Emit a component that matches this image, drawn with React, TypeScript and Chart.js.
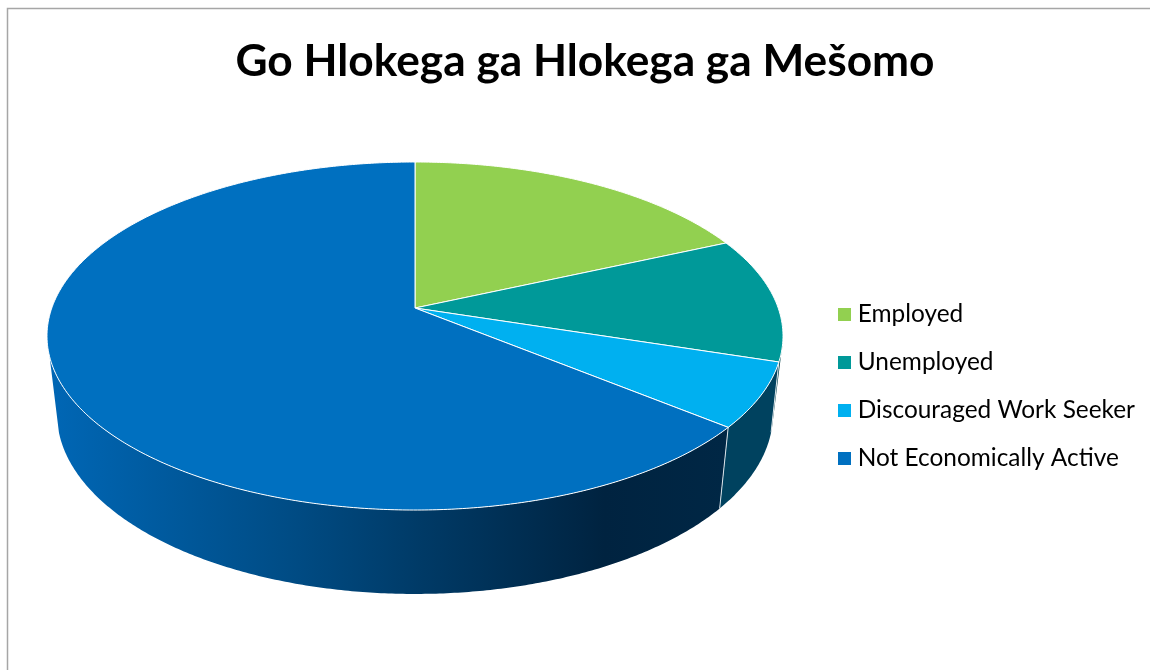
import React, { useEffect, useRef } from "react";
import { Chart, registerables } from "chart.js";

Chart.register(...registerables);

const TITLE = "Go Hlokega ga Hlokega ga Mešomo";
const categories = ["Employed", "Unemployed", "Discouraged Work Seeker", "Not Economically Active"];
const shares = [18.3, 11.6, 6.0, 64.1];
const colors = ["#92D050", "#009999", "#00B0F0", "#0070C0"];

type Proj = { cx: number; cy: number; A: number; B: number; k: number };
const topRim: Proj = { cx: 415, cy: 308, A: 363.2, B: 169.5, k: 0.161 };
const baseRim: Proj = { cx: 415, cy: 385, A: 353.3, B: 175.3, k: 0.161 };

function pt(p: Proj, theta: number, r = 1): [number, number] {
  const u = Math.sin(theta) * r;
  const v = -Math.cos(theta) * r;
  const w = 1 - p.k * v;
  return [p.cx + (p.A * u) / w, p.cy + (p.B * v) / w];
}
const rad = (d: number) => (d * Math.PI) / 180;

function trace(ctx: CanvasRenderingContext2D, p: Proj, a: number, b: number, first: boolean) {
  const n = Math.max(2, Math.ceil(Math.abs(b - a) / rad(0.5)));
  for (let i = 0; i <= n; i++) {
    const [x, y] = pt(p, a + ((b - a) * i) / n);
    if (i === 0 && first) ctx.moveTo(x, y);
    else ctx.lineTo(x, y);
  }
}

const tiltedPie = {
  id: "tiltedPie",
  beforeDraw(chart: any) {
    const { ctx } = chart;
    ctx.save();
    ctx.strokeStyle = "#A6A6A6";
    ctx.lineWidth = 1.5;
    ctx.beginPath();
    ctx.moveTo(7.5, 670);
    ctx.lineTo(7.5, 8.5);
    ctx.lineTo(1150, 8.5);
    ctx.stroke();
    ctx.restore();
  },
  beforeDatasetDraw(chart: any, args: any) {
    const { ctx } = chart;
    const arcs = args.meta.data;
    const ang = (a: number) => a + Math.PI / 2;
    const blue = arcs[3];
    const disc = arcs[2];
    const unemp = arcs[1];
    ctx.save();

    // side walls
    const grad = ctx.createLinearGradient(55, 0, 725, 0);
    grad.addColorStop(0, "#0066B4");
    grad.addColorStop(0.35, "#004C85");
    grad.addColorStop(0.55, "#003A66");
    grad.addColorStop(0.82, "#002340");
    grad.addColorStop(1, "#002745");

    const wall = (a: number, b: number, c: number, d: number, fill: any) => {
      ctx.beginPath();
      trace(ctx, topRim, a, b, true);
      trace(ctx, baseRim, c, d, false);
      ctx.closePath();
      ctx.fillStyle = fill;
      ctx.fill();
    };

    wall(ang(blue.startAngle), rad(254), rad(255), ang(blue.startAngle), grad);
    wall(ang(disc.startAngle), ang(disc.endAngle), ang(disc.endAngle), rad(105), "#00425F");
    wall(rad(101), ang(unemp.endAngle), rad(105), rad(103), "#00424A");

    // wall divider lines
    ctx.lineWidth = 1;
    ctx.strokeStyle = "#D9E2E8";
    for (const t of [ang(disc.endAngle), ang(disc.startAngle)]) {
      ctx.beginPath();
      const [x0, y0] = pt(topRim, t);
      const [x1, y1] = t === ang(disc.startAngle) ? pt(baseRim, rad(105)) : pt(baseRim, t);
      ctx.moveTo(x0, y0);
      ctx.lineTo(x1, y1);
      ctx.stroke();
    }

    // top face, one sector per arc element
    arcs.forEach((arc: any) => {
      ctx.beginPath();
      ctx.moveTo(topRim.cx, topRim.cy);
      trace(ctx, topRim, ang(arc.startAngle), ang(arc.endAngle), false);
      ctx.closePath();
      ctx.fillStyle = arc.options.backgroundColor;
      ctx.fill();
      ctx.lineJoin = "round";
      ctx.strokeStyle = "#FFFFFF";
      ctx.lineWidth = 1;
      ctx.stroke();
    });
    ctx.restore();
    return false;
  },
};

function swatch(color: string) {
  const c = document.createElement("canvas");
  c.width = 13;
  c.height = 13;
  const g = c.getContext("2d")!;
  g.fillStyle = color;
  g.fillRect(0, 0, 13, 13);
  return c;
}

export default function App() {
  const ref = useRef<HTMLCanvasElement>(null);
  useEffect(() => {
    document.body.style.margin = "0";
    const chart = new Chart(ref.current!, {
      type: "pie",
      data: {
        labels: categories,
        datasets: [{ data: shares, backgroundColor: colors, borderWidth: 0 }],
      },
      options: {
        animation: false,
        responsive: false,
        layout: { padding: { left: 25, top: 35, right: 5, bottom: 0 } },
        plugins: {
          tooltip: { enabled: false },
          title: {
            display: true,
            text: TITLE,
            color: "#000000",
            font: { family: "Lato", size: 44.25, weight: "bold" },
            padding: { top: 0, bottom: 15 },
          },
          legend: {
            position: "right",
            fullSize: false,
            labels: {
              color: "#1A1A1A",
              font: { family: "Lato", size: 24.4 },
              padding: 23.6,
              usePointStyle: true,
              pointStyleWidth: 3,
              boxHeight: 13,
              generateLabels: () =>
                categories.map((text, i) => ({
                  text,
                  fillStyle: colors[i],
                  strokeStyle: colors[i],
                  lineWidth: 0,
                  hidden: false,
                  index: i,
                  pointStyle: swatch(colors[i]),
                })),
            },
          },
        },
      } as any,
      plugins: [tiltedPie as any],
    });
    return () => chart.destroy();
  }, []);
  return (
    <div style={{ width: 1150, height: 670 }}>
      <canvas ref={ref} width={1150} height={670} style={{ display: "block" }} />
    </div>
  );
}
